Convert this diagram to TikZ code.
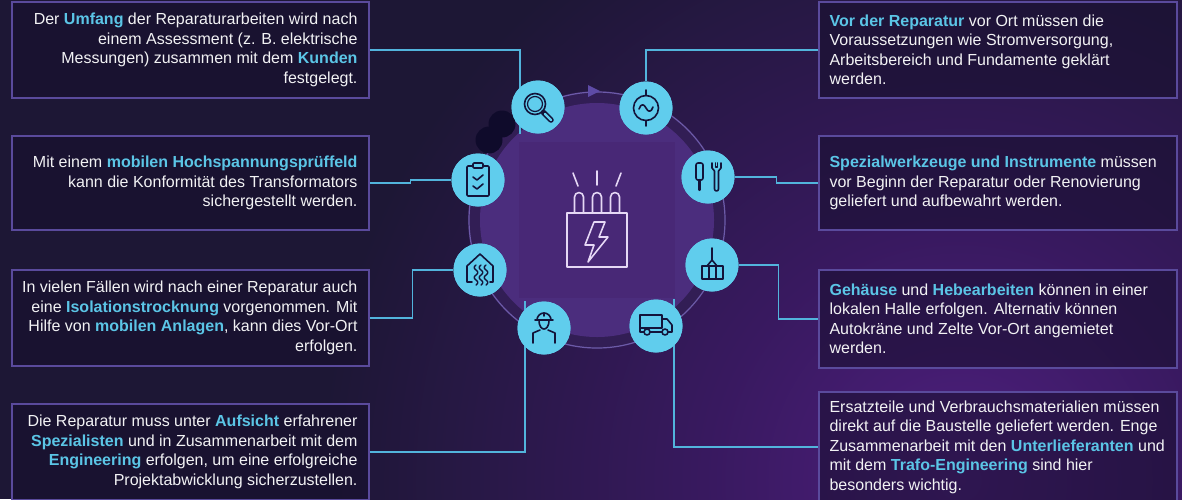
\documentclass[tikz,border=0pt]{standalone}
\usepackage{fontspec}
\setmainfont{Liberation Sans}
\usetikzlibrary{calc}

% palette
\definecolor{bgc}{HTML}{1D1735}
\definecolor{glowa}{HTML}{4E1F7E}
\definecolor{glowb}{HTML}{38195F}
\definecolor{bandc}{HTML}{321E55}
\definecolor{ringc}{HTML}{6C5AA8}
\definecolor{diskc}{HTML}{4B2D7D}
\definecolor{sqc}{HTML}{482876}
\definecolor{blobc}{HTML}{0F0B2B}
\definecolor{tric}{HTML}{5E4BA6}
\definecolor{cyanfill}{HTML}{60CDED}
\definecolor{iconc}{HTML}{13143A}
\definecolor{connc}{HTML}{52B4DC}
\definecolor{boxc}{HTML}{5A4A9C}
\definecolor{boxfill}{HTML}{160F2C}
\definecolor{txtc}{HTML}{F2F2F4}
\definecolor{hlc}{HTML}{5BC5E6}
\definecolor{trafoc}{HTML}{E6D8F5}

% soft purple glow; TikZ fits the inner 25bp radius to the shaded disc
\pgfdeclareradialshading{bgglow}{\pgfpoint{0bp}{0bp}}{%
  color(0bp)=(glowa); color(10bp)=(glowb); color(25bp)=(bgc); color(50bp)=(bgc)}

\newcommand{\hlt}[1]{{\bfseries\color{hlc}#1}}

\tikzset{
  infobox/.style={rectangle, draw=boxc, line width=1.3pt, fill=boxfill,
    fill opacity=0.55, inner sep=0pt},
  infotext/.style={text=txtc, inner sep=0pt,
    font=\fontsize{16}{19.5}\selectfont},
  ltext/.style={infotext, align=right, anchor=east},
  rtext/.style={infotext, align=left, anchor=west},
  conn/.style={draw=connc, line width=1.4pt},
  iconbg/.style={circle, fill=cyanfill, minimum size=53pt, inner sep=0pt},
  glyph/.style={draw=iconc, line width=1.6pt, line cap=round, line join=round},
  trafo/.style={draw=trafoc, line width=1.6pt, line cap=round, line join=round}
}

\begin{document}
\begin{tikzpicture}[x=1pt,y=-1pt]
\useasboundingbox (0,0) rectangle (1182,499);
\clip (0,0) rectangle (1182,499);

% background with purple glow towards the lower right
\fill[bgc] (0,0) rectangle (1182,499);
\shade[shading=bgglow] (960,480) circle (640);

% central hub
\fill[bandc] (597,220) circle (129);
\draw[ringc, line width=1.2pt] (597,220) circle (128);
\fill[diskc] (597,220) circle (117);
\fill[sqc] (519,142) rectangle (675,298);
\fill[blobc] (502,124) circle (13.5);
\fill[blobc] (489,140) circle (13.5);
\fill[tric] (588,85) -- (600,91) -- (588,97) -- cycle;

% transformer symbol
\draw[trafo] (567,213) rectangle (627,267);
\foreach \cx in {579,597,615}{
  \draw[trafo] (\cx-4.5,213) -- (\cx-4.5,197)
    arc[start angle=180, end angle=360, radius=4.5] -- (\cx+4.5,213);
}
\draw[trafo] (573,173) -- (578,186);
\draw[trafo] (597,171) -- (597,185);
\draw[trafo] (621,173) -- (616,186);
\draw[trafo] (594,222) -- (605,222) -- (599,237) -- (608,237) -- (588,262)
  -- (594,245) -- (585,245) -- cycle;

% frames
\node[infobox, minimum width=357pt, minimum height=96pt]  (b1) at (190.5,50)  {};
\node[infobox, minimum width=357pt, minimum height=94pt]  (b3) at (190.5,183) {};
\node[infobox, minimum width=357pt, minimum height=96pt]  (b4) at (190.5,318) {};
\node[infobox, minimum width=357pt, minimum height=96pt]  (b5) at (190.5,452) {};
\node[infobox, minimum width=358pt, minimum height=96pt]  (b2) at (998,50)    {};
\node[infobox, minimum width=358pt, minimum height=94pt]  (b6) at (998,183)   {};
\node[infobox, minimum width=358pt, minimum height=98pt]  (b7) at (998,319)   {};
\node[infobox, minimum width=358pt, minimum height=110pt] (b8) at (998,447)   {};

% texts, left column (right aligned)
\node[ltext] (t1) at ([xshift=-12pt]b1.east) {Der \hlt{Umfang} der Reparaturarbeiten wird nach\\
einem Assessment (z. B. elektrische\\
Messungen) zusammen mit dem \hlt{Kunden}\\
festgelegt.};
\node[ltext] (t3) at ([xshift=-12pt]b3.east) {Mit einem \hlt{mobilen Hochspannungsprüffeld}\\
kann die Konformität des Transformators\\
sichergestellt werden.};
\node[ltext] (t4) at ([xshift=-12pt]b4.east) {In vielen Fällen wird nach einer Reparatur auch\\
eine \hlt{Isolationstrocknung} vorgenommen. Mit\\
Hilfe von \hlt{mobilen Anlagen}, kann dies Vor-Ort\\
erfolgen.};
\node[ltext] (t5) at ([xshift=-12pt]b5.east) {Die Reparatur muss unter \hlt{Aufsicht} erfahrener\\
\hlt{Spezialisten} und in Zusammenarbeit mit dem\\
\hlt{Engineering} erfolgen, um eine erfolgreiche\\
Projektabwicklung sicherzustellen.};

% texts, right column (left aligned)
\node[rtext] (t2) at ([xshift=11pt]b2.west) {\hlt{Vor der Reparatur} vor Ort müssen die\\
Voraussetzungen wie Stromversorgung,\\
Arbeitsbereich und Fundamente geklärt\\
werden.};
\node[rtext] (t6) at ([xshift=11pt]b6.west) {\hlt{Spezialwerkzeuge und Instrumente} müssen\\
vor Beginn der Reparatur oder Renovierung\\
geliefert und aufbewahrt werden.};
\node[rtext] (t7) at ([xshift=11pt]b7.west) {\hlt{Gehäuse} und \hlt{Hebearbeiten} können in einer\\
lokalen Halle erfolgen. Alternativ können\\
Autokräne und Zelte Vor-Ort angemietet\\
werden.};
\node[rtext] (t8) at ([xshift=11pt]b8.west) {Ersatzteile und Verbrauchsmaterialien müssen\\
direkt auf die Baustelle geliefert werden. Enge\\
Zusammenarbeit mit den \hlt{Unterlieferanten} und\\
mit dem \hlt{Trafo-Engineering} sind hier\\
besonders wichtig.};

% icon discs
\node[iconbg] (mag)   at (538,107) {};
\node[iconbg] (gen)   at (646,108) {};
\node[iconbg] (clip)  at (478,180) {};
\node[iconbg] (tools) at (708,177) {};
\node[iconbg] (house) at (480,270) {};
\node[iconbg] (crane) at (712,265) {};
\node[iconbg] (work)  at (544,328) {};
\node[iconbg] (truck) at (656,326) {};

% connectors
\draw[conn] (b1.east) -| ([xshift=-18pt]mag.south);
\draw[conn] (b2.west) -| (gen.north);
\draw[conn] (b3.east) -- ++(41,0) |- (clip.west);
\draw[conn] (b4.east) -- ++(43,0) |- (house.west);
\draw[conn] (b5.east) -| ([xshift=-19pt]work.north);
\draw[conn] (tools.east) -- ++(42,0) |- (b6.west);
\draw[conn] (crane.east) -- ++(40,0) |- (b7.west);
\draw[conn] ([xshift=18pt]truck.north) |- (b8.west);

% discs again, covering the connector ends
\foreach \n in {mag,gen,clip,tools,house,crane,work,truck}{
  \fill[cyanfill] (\n.center) circle (26.5);
}

% magnifier
\begin{scope}[shift={(mag.center)}]
  \draw[glyph] (-3,-3) circle (10.5);
  \draw[glyph, line width=1.2pt] (-3,-3) circle (7.5);
  \draw[iconc, line width=5.5pt, line cap=round] (5.5,5.5) -- (13,13);
  \draw[cyanfill, line width=2.4pt, line cap=round] (7,7) -- (13,13);
\end{scope}

% generator symbol
\begin{scope}[shift={(gen.center)}]
  \draw[glyph] (0,0) circle (12.5);
  \draw[glyph] (0,-12.5) -- (0,-18);
  \draw[glyph] (0,12.5) -- (0,18);
  \draw[glyph] (-7,1) .. controls (-5,-5) and (-2,-4) .. (0,0)
    .. controls (2,4) and (5,5) .. (7,-1);
\end{scope}

% clipboard
\begin{scope}[shift={(clip.center)}]
  \draw[glyph, rounded corners=1pt] (-11,-14) rectangle (11,16);
  \draw[glyph, fill=cyanfill, rounded corners=1pt] (-5,-17) rectangle (5,-12);
  \draw[glyph] (-5,-3) -- (-1,0) -- (5,-5);
  \draw[glyph] (-5,6) -- (-1,9) -- (5,4);
\end{scope}

% screwdriver and wrench
\begin{scope}[shift={(tools.center)}]
  \draw[glyph, rounded corners=2pt] (-12,-14) rectangle (-5,3);
  \draw[glyph, line width=2.2pt] (-8.5,3) -- (-8.5,13);
  \draw[glyph] (4,-14) -- (4,-9) -- (6.5,-6) -- (6.5,12)
    arc[start angle=180, end angle=0, radius=2] -- (10.5,-6) -- (13,-9) -- (13,-14);
  \draw[glyph] (7.5,-14) -- (7.5,-10) -- (9.5,-10) -- (9.5,-14);
\end{scope}

% container on a crane hook
\begin{scope}[shift={(crane.center)}]
  \draw[glyph] (0,-17) -- (0,-5);
  \draw[glyph] (-5,1) -- (0,-5) -- (5,1);
  \draw[glyph, line width=1.9pt] (-10,1) rectangle (11,14);
  \draw[glyph] (-3,1) -- (-3,14);
  \draw[glyph] (4,1) -- (4,14);
\end{scope}

% house with drying waves
\begin{scope}[shift={(house.center)}]
  \draw[glyph] (-8,12) -- (-13,12) -- (-13,-4) -- (0,-16) -- (13,-4) -- (13,12) -- (10,12);
  \foreach \wx in {-4,1,6}{
    \draw[glyph, line width=1.4pt] plot[domain=-5:15, samples=25, smooth, variable=\t]
      ({\wx+1.8*sin(\t*36)}, \t);
  }
\end{scope}

% worker with helmet
\begin{scope}[shift={(work.center)}]
  \draw[glyph] (-7,-8) arc[start angle=180, end angle=360, radius=7];
  \draw[glyph] (0,-15) -- (0,-12);
  \draw[glyph] (-9,-8) -- (9,-8);
  \draw[glyph] (-5,-8) .. controls (-5,-1) and (-2,1) .. (0,1)
    .. controls (2,1) and (5,-1) .. (5,-8);
  \draw[glyph] (-11,15) -- (-11,5) -- (-4,2);
  \draw[glyph] (11,15) -- (11,5) -- (4,2);
\end{scope}

% delivery truck
\begin{scope}[shift={(truck.center)}]
  \draw[glyph] (-16,-11) rectangle (6,2);
  \draw[glyph] (6,-7) -- (11,-7) -- (16,-1) -- (16,6) -- (12,6);
  \draw[glyph] (6,6) -- (-6,6);
  \draw[glyph] (-12,6) -- (-16,6) -- (-16,2);
  \draw[glyph] (-9,6) circle (3);
  \draw[glyph] (9,6) circle (3);
\end{scope}
\end{tikzpicture}
\end{document}
